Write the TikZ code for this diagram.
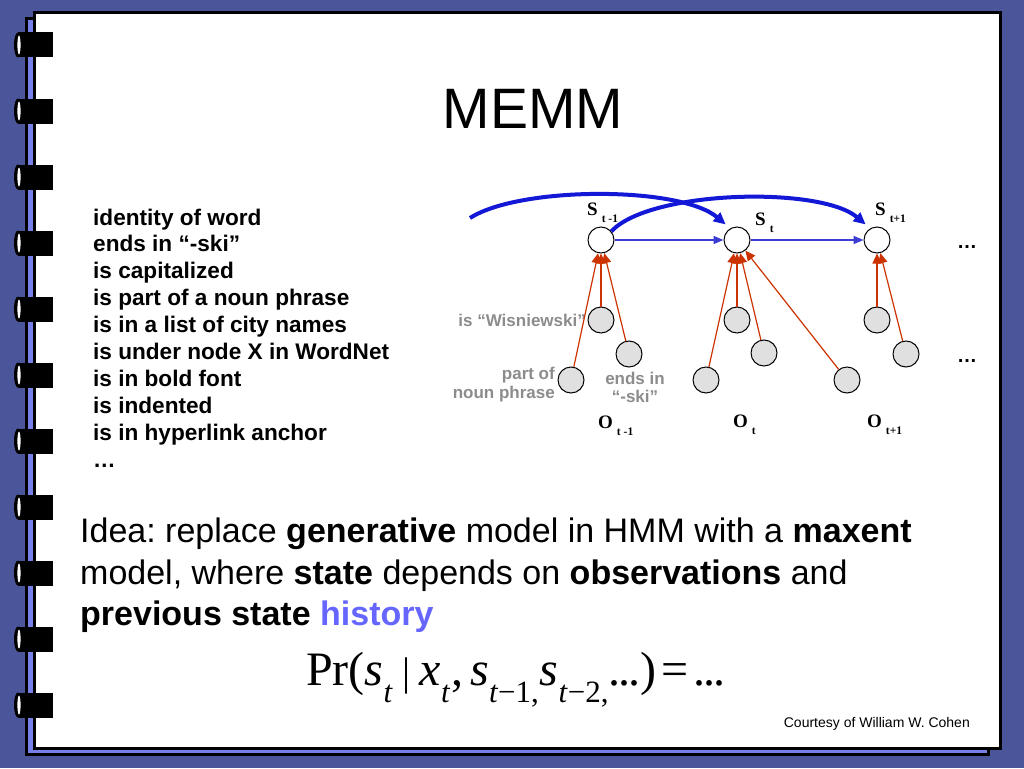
\documentclass[tikz,border=0pt]{standalone}
\usepackage{fontspec}
\setmainfont{Liberation Sans}
\newfontfamily\serif{Liberation Serif}
\usepackage{xcolor}
\usetikzlibrary{positioning,arrows.meta,calc}
\frenchspacing

\definecolor{bgblue}{RGB}{74,86,153}
\definecolor{pageblue}{RGB}{118,128,230}
\definecolor{arcblue}{RGB}{18,24,214}
\definecolor{linkblue}{RGB}{60,60,210}
\definecolor{obsred}{RGB}{204,51,0}
\definecolor{labgrey}{RGB}{140,140,140}
\definecolor{histblue}{RGB}{102,102,255}
\definecolor{obsfill}{RGB}{224,224,224}

\newcommand{\fsz}[2]{\fontsize{#1}{#2}\selectfont}
\newcommand{\vlab}[2]{{\serif\bfseries\fsz{19}{19}#1}\hspace{4pt}\raisebox{-7.5pt}{\serif\bfseries\fsz{11.5}{12}#2}}
\newcommand{\msub}[2]{\textit{#1}\raisebox{-17pt}{\fsz{31}{31}#2}}
\newcommand{\tdots}{.\kern-2pt.\kern-2pt.}

\begin{document}
\begin{tikzpicture}[x=1pt,y=-1pt,
    stnode/.style={circle,draw,line width=1pt,fill=white,minimum size=26pt,inner sep=0pt},
    obnode/.style={circle,draw,line width=1pt,fill=obsfill,minimum size=26pt,inner sep=0pt},
    feat/.style={anchor=base west,inner sep=0pt,font=\bfseries\fsz{22.6}{27}},
    idea/.style={anchor=base west,inner sep=0pt,font=\fsz{34}{41}},
    glab/.style={inner sep=0pt,text=labgrey,font=\bfseries\fsz{17}{20}},
    varlab/.style={anchor=base west,inner sep=0pt},
    obsarrow/.style={obsred,line width=1.2pt,-{Triangle[length=10pt,width=9pt]}},
    linkarrow/.style={linkblue,line width=1.6pt,-{Triangle[length=10pt,width=8pt]}},
    bigarc/.style={arcblue,line width=4pt,shorten >=6pt,-{Triangle[length=12pt,width=11pt]}}]
        \useasboundingbox (0,0) rectangle (1024,768);
        % frame
        \fill[bgblue] (0,0) rectangle (1024,768);
        \draw[line width=3pt,fill=pageblue] (26.5,18.5) rectangle (988,754.5);
        \draw[line width=3pt,fill=white] (34.5,12.5) rectangle (1000,748.5);
        \foreach \k in {0,...,10}{
            \pgfmathsetmacro\yy{45+66*\k}
            \fill[black] (18,\yy-12.5) rectangle (53,\yy+12.5);
            \fill[black] (18,\yy) ellipse [x radius=4, y radius=12.5];
            \fill[white] (19,\yy) ellipse [x radius=1.6, y radius=9.5];
        }
        \node[anchor=base,inner sep=0pt,font=\fsz{57}{57}] (title) at (533,128) {MEMM};
        % feature list
        \foreach \txt [count=\i from 0] in {identity of word,ends in “-ski”,is capitalized,is part of a noun phrase,is in a list of city names,is under node X in WordNet,is in bold font,is indented,is in hyperlink anchor,…}
            \node[feat] (f\i) at (93,225+26.9*\i) {\txt};
        % states
        \node[stnode] (s1) at (601,240) {};
        \node[stnode] (s2) at (737,240) {};
        \node[stnode] (s3) at (877,240) {};
        \node[varlab] (ls1) at (587,215) {\vlab{S}{t -1}};
        \node[varlab] (ls2) at (755,225) {\vlab{S}{t}};
        \node[varlab] (ls3) at (875,215) {\vlab{S}{t+1}};
        % observations
        \node[obnode] (w1) at (601,320) {};
        \node[obnode] (e1) at (629,354) {};
        \node[obnode] (p1) at (571,380) {};
        \node[obnode] (a2) at (737,320) {};
        \node[obnode] (b2) at (764,353) {};
        \node[obnode] (c2) at (706,380) {};
        \node[obnode] (d2) at (847,380) {};
        \node[obnode] (a3) at (877,320) {};
        \node[obnode] (b3) at (906,354) {};
        \node[varlab] (lo1) at (598,428) {\vlab{O}{t -1}};
        \node[varlab] (lo2) at (733,427) {\vlab{O}{t}};
        \node[varlab] (lo3) at (867,427) {\vlab{O}{t+1}};
        \node[glab,anchor=base east] (lw) at (586,326) {is “Wisniewski”};
        \node[glab,anchor=base east] (lp1) at (555,379) {part of};
        \node[glab,anchor=base east] (lp2) at (555,398) {noun phrase};
        \node[glab,anchor=base] (le1) at (635,384) {ends in};
        \node[glab,anchor=base] (le2) at (635,402) {“-ski”};
        \node[anchor=base,inner sep=0pt,font=\bfseries\fsz{20}{20}] (dots1) at (967,248) {…};
        \node[anchor=base,inner sep=0pt,font=\bfseries\fsz{20}{20}] (dots2) at (967,362) {…};
        % arrows
        \foreach \o in {w1,e1,p1} \draw[obsarrow] (\o) -- (s1);
        \foreach \o in {a2,b2,c2,d2} \draw[obsarrow] (\o) -- (s2);
        \foreach \o in {a3,b3} \draw[obsarrow] (\o) -- (s3);
        \draw[linkarrow] (s1) -- (s2);
        \draw[linkarrow] (s2) -- (s3);
        \coordinate (arcstart) at (470,218);
        \draw[bigarc] (arcstart) .. controls (520,186) and (680,186) .. (s2.120);
        \draw[bigarc] (s1.40) .. controls (650,190) and (820,186) .. (s3.120);
        % idea text
        \node[idea] (idea1) at (80,542) {Idea: replace \textbf{generative} model in HMM with a \textbf{maxent}};
        \node[idea] (idea2) at (80,584) {model, where \textbf{state} depends on \textbf{observations} and};
        \node[idea] (idea3) at (80,625) {\textbf{previous state} \textcolor{histblue}{\textbf{history}}};
        \node[anchor=base west,inner sep=0pt,font=\serif\fsz{48}{48}] (formula) at (306,685)
            {Pr(\msub{s}{\textit{t}}\hspace{10pt}{\fsz{40}{40}|}\hspace{9pt}\msub{x}{\textit{t}}\hspace{1pt},\hspace{7pt}\msub{s}{\textit{t}−1,}\hspace{1pt}\msub{s}{\textit{t}−2,}\tdots)\hspace{5pt}=\hspace{5pt}\tdots};
        \node[anchor=base east,inner sep=0pt,font=\fsz{14}{14}] (credit) at (970,727) {Courtesy of William W. Cohen};
    \end{tikzpicture}
\end{document}
